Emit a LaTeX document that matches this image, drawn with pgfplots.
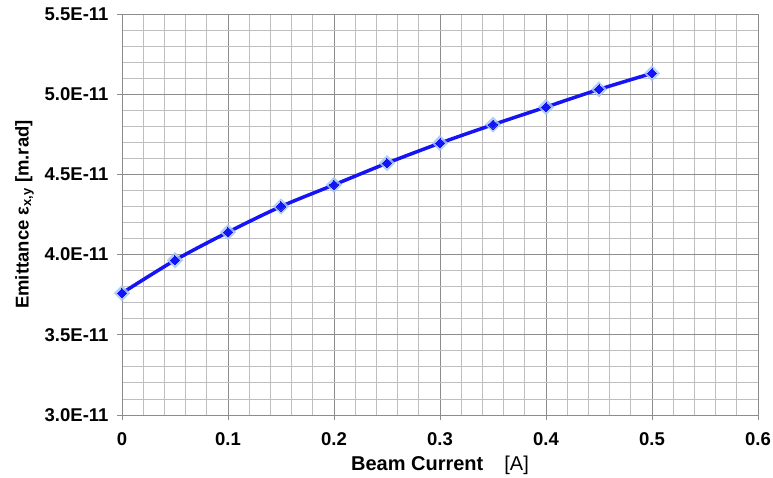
\documentclass[border=0pt]{standalone}
\usepackage{fontspec}
\setmainfont{Liberation Sans}
\usepackage{pgfplots}
\pgfplotsset{compat=1.18}

\definecolor{majgrid}{RGB}{140,140,140}
\definecolor{mingrid}{RGB}{190,190,190}
\definecolor{linecol}{RGB}{20,20,245}
\definecolor{glow}{RGB}{160,195,245}

\begin{document}
\begin{tikzpicture}
\useasboundingbox (-122bp,-63bp) rectangle (651bp,415bp);
\begin{axis}[
  at={(0,0)}, anchor=south west,
  scale only axis, width=636bp, height=401bp,
  xmin=0, xmax=0.6, ymin=3.0, ymax=5.5,
  xtick={0,0.1,...,0.6}, ytick={3.0,3.5,...,5.5},
  xticklabels={0,0.1,0.2,0.3,0.4,0.5,0.6},
  yticklabels={3.0E-11,3.5E-11,4.0E-11,4.5E-11,5.0E-11,5.5E-11},
  minor x tick num=4, minor y tick num=4,
  grid=both,
  major grid style={majgrid, line width=0.9pt},
  minor grid style={mingrid, line width=0.9pt},
  axis line style={majgrid, line width=1pt},
  tick align=outside, major tick length=5bp, minor tick length=0pt,
  tick style={majgrid, line width=0.9pt},
  xtick pos=bottom, ytick pos=left,
  tick label style={font=\fontsize{18.5bp}{19bp}\selectfont\bfseries},
  xticklabel style={yshift=-9bp},
  yticklabel style={xshift=-5bp},
  xlabel={\textbf{Beam Current}\hspace{21bp}{\fontsize{20bp}{22bp}\selectfont[A]}},
  xlabel style={font=\fontsize{20bp}{22bp}\selectfont, yshift=-4bp},
  ylabel={\textbf{Emittance ε\textsubscript{x,y} [m.rad]}},
  ylabel style={font=\fontsize{18.5bp}{20bp}\selectfont, yshift=4bp},
]
% values in units of 1E-11 m.rad
\addplot[glow, only marks, mark=square*, mark size=5.5bp, mark options={rotate=45, fill=glow, draw=glow, opacity=0.8}] coordinates
  {(0,3.76) (0.05,3.965) (0.1,4.14) (0.15,4.30) (0.2,4.435) (0.25,4.57)
   (0.3,4.695) (0.35,4.81) (0.4,4.92) (0.45,5.03) (0.5,5.13)};
\addplot[linecol, line width=3.5bp, smooth, mark=square*, mark size=3.2bp, mark options={rotate=45, fill=linecol, draw=linecol, line width=0pt}] coordinates
  {(0,3.76) (0.05,3.965) (0.1,4.14) (0.15,4.30) (0.2,4.435) (0.25,4.57)
   (0.3,4.695) (0.35,4.81) (0.4,4.92) (0.45,5.03) (0.5,5.13)};
\end{axis}
\end{tikzpicture}
\end{document}
